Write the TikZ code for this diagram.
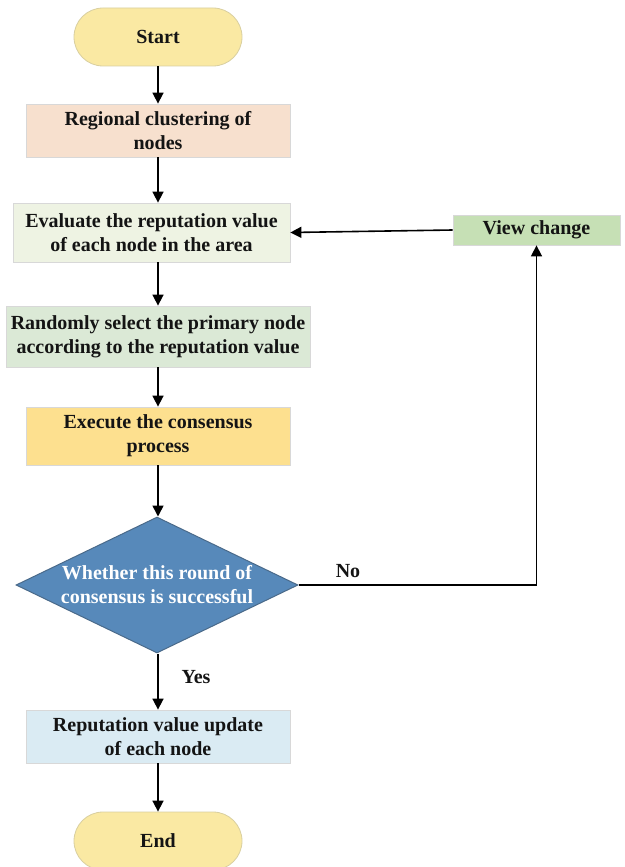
\documentclass[tikz,border=0pt]{standalone}
\usepackage{fontspec}
\setmainfont{Liberation Serif}
\usetikzlibrary{shapes.geometric,arrows.meta}
\definecolor{pillfill}{HTML}{FAE9A3}
\definecolor{pillline}{HTML}{D9CFA0}
\definecolor{clusterfill}{HTML}{F7E0CE}
\definecolor{evalfill}{HTML}{EEF3E3}
\definecolor{randfill}{HTML}{DBE9D6}
\definecolor{execfill}{HTML}{FDE08F}
\definecolor{decfill}{HTML}{5789BA}
\definecolor{decline}{HTML}{4A6A8A}
\definecolor{viewfill}{HTML}{C6E0B5}
\definecolor{updfill}{HTML}{DAEBF3}
\definecolor{boxline}{HTML}{D8D8D8}
\definecolor{txt}{HTML}{141414}
\tikzset{
  every node/.style={font=\fontsize{20}{24}\selectfont\bfseries, text=txt, align=center},
  pill/.style={draw=pillline, fill=pillfill, line width=0.8pt, rounded corners=29pt, minimum width=168pt, minimum height=58pt, inner sep=0pt},
  procbox/.style={draw=boxline, line width=0.8pt, inner sep=0pt},
  decbox/.style={diamond, draw=decline, fill=decfill, line width=1pt, minimum width=282pt, minimum height=136pt, shape aspect=2.07, inner sep=0pt, text=white},
  arr/.style={draw=black, line width=1.6pt, -{Triangle[length=11pt,width=11pt]}},
  lbl/.style={inner sep=0pt}
}
\begin{document}
\begin{tikzpicture}[x=1pt,y=-1pt]
\useasboundingbox[fill=white] (0,0) rectangle (624,867);
\node[pill] (start) at (158,37) {Start};
\node[procbox, fill=clusterfill, minimum width=264pt, minimum height=53pt] (cluster) at (158,130.5) {Regional clustering of\\nodes};
\node[procbox, fill=evalfill, minimum width=277pt, minimum height=59pt] (eval) at (151.5,232.5) {Evaluate the reputation value\\of each node in the area};
\node[procbox, fill=randfill, minimum width=304pt, minimum height=61pt] (rand) at (158,336.5) {Randomly select the primary node\\according to the reputation value};
\node[procbox, fill=execfill, minimum width=264pt, minimum height=58pt] (exec) at (158,436) {Execute the consensus\\process};
\node[decbox] (dec) at (157,585) {Whether this round of\\consensus is successful};
\node[procbox, fill=viewfill, minimum width=167pt, minimum height=30pt] (view) at (536.5,230) {View change};
\node[procbox, fill=updfill, minimum width=264pt, minimum height=53pt] (upd) at (158,736.5) {Reputation value update\\of each node};
\node[pill] (endn) at (158,841) {End};
\node[lbl] (no) at (348,571) {No};
\node[lbl] (yes) at (196,677) {Yes};
\draw[arr] (start.south) -- (cluster.north);
\draw[arr] (cluster.south) -- (cluster.south |- eval.north);
\draw[arr] (cluster.south |- eval.south) -- (rand.north);
\draw[arr] (rand.south) -- (exec.north);
\draw[arr] (exec.south) -- (exec.south |- dec.north);
\draw[arr] (exec.south |- dec.south) -- (upd.north);
\draw[arr] (upd.south) -- (endn.north);
\draw[arr] (dec.east) -| (view.south);
\draw[arr] (view.west) -- (eval.east);
\end{tikzpicture}
\end{document}
